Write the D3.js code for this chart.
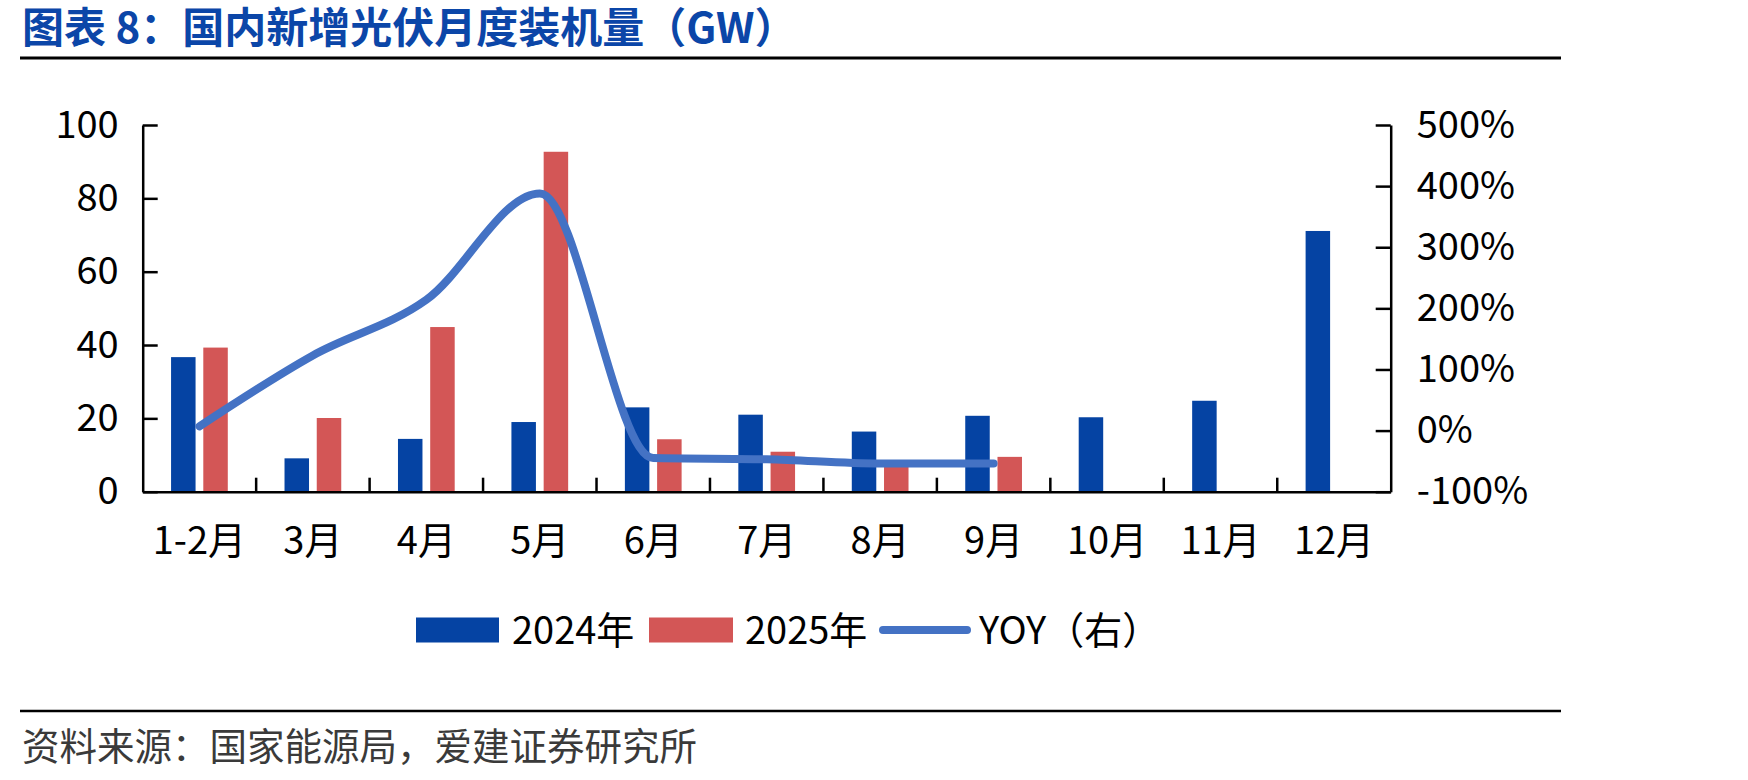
<!DOCTYPE html>
<html>
<head>
<meta charset="utf-8">
<script src="https://cdn.jsdelivr.net/npm/d3@7"></script>
<style>
    body { margin: 0; background: #fff; }
    svg { display: block; font-family: "Noto Sans CJK SC", "Noto Sans", sans-serif; }
</style>
</head>
<body>
<div id="chart"></div>
<script>
const categories = ["1-2月", "3月", "4月", "5月", "6月", "7月", "8月", "9月", "10月", "11月", "12月"];
const values2024 = [36.7, 9.1, 14.4, 19.0, 23.0, 21.0, 16.4, 20.7, 20.3, 24.8, 71.1];
const values2025 = [39.3, 20.1, 44.9, 92.7, 14.3, 10.9, 7.9, 9.5, null, null, null];
const yoy = [0.07, 1.23, 2.14, 3.88, -0.45, -0.47, -0.54, -0.54];
const leftTicks = [0, 20, 40, 60, 80, 100];
const rightTicks = [-1, 0, 1, 2, 3, 4, 5];
const seriesNames = ["2024年", "2025年", "YOY（右）"];

const width = 1748, height = 780;
const plot = { left: 142.7, right: 1390.7, top: 125, bottom: 491.7 };
const colors = { a: "#0543A3", b: "#D35656", line: "#4472C4", title: "#0B46A8" };

const svg = d3.select("#chart")
    .append("svg")
    .attr("width", width)
    .attr("height", height);

// Title and rules
svg.append("text")
    .attr("x", 22)
    .attr("y", 43)
    .attr("font-size", 42)
    .attr("font-weight", "bold")
    .attr("fill", colors.title)
    .text("图表 8：国内新增光伏月度装机量（GW）");

svg.append("line")
    .attr("x1", 20).attr("x2", 1561)
    .attr("y1", 58).attr("y2", 58)
    .attr("stroke", "#000").attr("stroke-width", 3);

svg.append("line")
    .attr("x1", 20).attr("x2", 1561)
    .attr("y1", 711).attr("y2", 711)
    .attr("stroke", "#000").attr("stroke-width", 2.5);

svg.append("text")
    .attr("x", 22)
    .attr("y", 760)
    .attr("font-size", 37.5)
    .attr("fill", "#3a3a3a")
    .text("资料来源：国家能源局，爱建证券研究所");

// Scales
const x = d3.scaleBand()
    .domain(categories)
    .range([plot.left, plot.right]);

const bw = x.bandwidth();
const x1 = d3.scaleBand()
    .domain(["a", "b"])
    .range([bw * 0.25, bw * 0.75])
    .paddingInner(0.24);

const y = d3.scaleLinear()
    .domain([0, 100])
    .range([plot.bottom, plot.top]);

const yRight = d3.scaleLinear()
    .domain([-1, 5])
    .range([plot.bottom, plot.top]);

// Bars
const bars = svg.append("g");
categories.forEach((c, i) => {
    [["a", values2024[i]], ["b", values2025[i]]].forEach(([key, v]) => {
        if (v === null || v === undefined) return;
        bars.append("rect")
            .attr("x", x(c) + x1(key))
            .attr("y", y(v))
            .attr("width", x1.bandwidth())
            .attr("height", y(0) - y(v))
            .attr("fill", key === "a" ? colors.a : colors.b);
    });
});

// Left axis
const leftAxis = svg.append("g")
    .attr("transform", `translate(${plot.left},0)`)
    .call(d3.axisLeft(y).tickValues(leftTicks).tickSizeInner(-15).tickSizeOuter(0).tickPadding(24));

// Right axis
const rightAxis = svg.append("g")
    .attr("transform", `translate(${plot.right},0)`)
    .call(d3.axisRight(yRight).tickValues(rightTicks)
        .tickFormat(d => `${Math.round(d * 100)}%`)
        .tickSizeInner(-15).tickSizeOuter(0).tickPadding(26));

// Bottom axis: labels at band centers, ticks between bands
const bottomAxis = svg.append("g")
    .attr("transform", `translate(0,${plot.bottom})`)
    .call(d3.axisBottom(x).tickSize(0).tickPadding(35));

categories.slice(1).forEach(c => {
    bottomAxis.append("line")
        .attr("x1", x(c)).attr("x2", x(c))
        .attr("y1", 0).attr("y2", -14)
        .attr("stroke", "#000").attr("stroke-width", 2.5);
});

[leftAxis, rightAxis, bottomAxis].forEach(g => {
    g.select(".domain").attr("stroke", "#000").attr("stroke-width", 2.5);
    g.selectAll(".tick line").attr("stroke", "#000").attr("stroke-width", 2.5);
    g.selectAll(".tick text")
        .attr("font-size", 38)
        .attr("font-family", "\"Noto Sans CJK SC\", sans-serif")
        .attr("fill", "#000");
});

// YOY line
const line = d3.line()
    .x((d, i) => x(categories[i]) + bw / 2)
    .y(d => yRight(d))
    .curve(d3.curveMonotoneX);

svg.append("path")
    .datum(yoy)
    .attr("d", line)
    .attr("fill", "none")
    .attr("stroke", colors.line)
    .attr("stroke-width", 8)
    .attr("stroke-linecap", "round")
    .attr("stroke-linejoin", "round");

// Legend
const legend = svg.append("g").attr("transform", "translate(0,630)");
legend.append("rect")
    .attr("x", 416).attr("y", -12.5).attr("width", 83).attr("height", 25)
    .attr("fill", colors.a);
legend.append("rect")
    .attr("x", 649).attr("y", -12.5).attr("width", 84).attr("height", 25)
    .attr("fill", colors.b);
legend.append("line")
    .attr("x1", 883).attr("x2", 967)
    .attr("y1", 0).attr("y2", 0)
    .attr("stroke", colors.line).attr("stroke-width", 8)
    .attr("stroke-linecap", "round");

[[512, seriesNames[0]], [745, seriesNames[1]], [979, seriesNames[2]]].forEach(([lx, t]) => {
    legend.append("text")
        .attr("x", lx)
        .attr("y", 0)
        .attr("dy", "0.36em")
        .attr("font-size", 38)
        .attr("fill", "#000")
        .text(t);
});
</script>
</body>
</html>
